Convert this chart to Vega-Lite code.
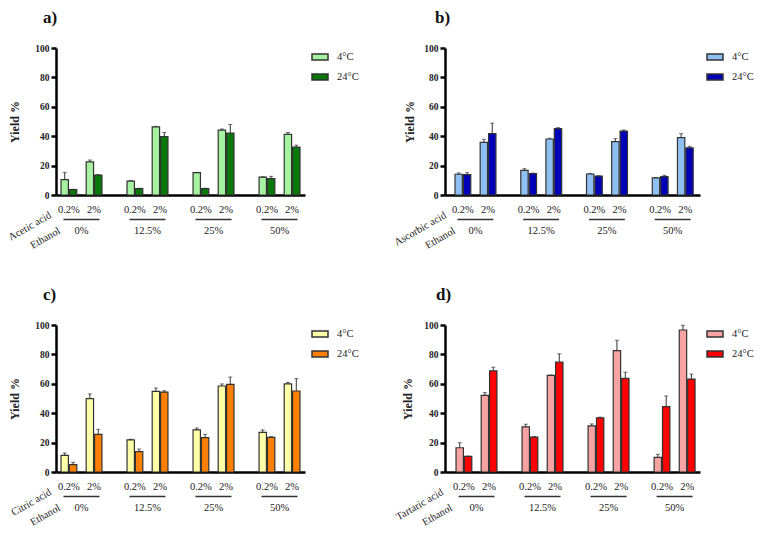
{
  "$schema": "https://vega.github.io/schema/vega-lite/v6.json",
  "padding": {"left": 6, "top": 9, "right": 5, "bottom": 5},
  "config": {
    "view": {"stroke": null},
    "font": "Liberation Serif",
    "axis": {"labelColor": "#222", "titleColor": "#222", "labelOverlap": false},
    "legend": {"labelFont": "Liberation Serif", "labelFontSize": 10.5, "labelColor": "#222", "symbolType": "M-1,-0.375H1V0.375H-1Z", "symbolSize": 256, "symbolStrokeColor": "#333", "symbolStrokeWidth": 1.5, "orient": "right", "offset": 6, "padding": 0, "labelOffset": 8, "rowPadding": 5, "title": null},
    "title": {"font": "Liberation Serif", "fontSize": 17, "fontWeight": "bold", "anchor": "start", "frame": "group", "color": "#111"}
  },
  "datasets": {
    "bars": [
      {"panel": "a", "ethanol": "0%", "acid": "0.2%", "temp": "4°C", "slot": "0.2% 4°C", "yield": 10.4, "upper": 15.4},
      {"panel": "a", "ethanol": "0%", "acid": "0.2%", "temp": "24°C", "slot": "0.2% 24°C", "yield": 3.6, "upper": 3.9},
      {"panel": "a", "ethanol": "0%", "acid": "2%", "temp": "4°C", "slot": "2% 4°C", "yield": 22.6, "upper": 23.8},
      {"panel": "a", "ethanol": "0%", "acid": "2%", "temp": "24°C", "slot": "2% 24°C", "yield": 13.6, "upper": 13.9},
      {"panel": "a", "ethanol": "12.5%", "acid": "0.2%", "temp": "4°C", "slot": "0.2% 4°C", "yield": 9.5, "upper": 9.8},
      {"panel": "a", "ethanol": "12.5%", "acid": "0.2%", "temp": "24°C", "slot": "0.2% 24°C", "yield": 4.3, "upper": 4.6},
      {"panel": "a", "ethanol": "12.5%", "acid": "2%", "temp": "4°C", "slot": "2% 4°C", "yield": 46.4, "upper": 46.7},
      {"panel": "a", "ethanol": "12.5%", "acid": "2%", "temp": "24°C", "slot": "2% 24°C", "yield": 39.8, "upper": 42.5},
      {"panel": "a", "ethanol": "25%", "acid": "0.2%", "temp": "4°C", "slot": "0.2% 4°C", "yield": 15.2, "upper": 15.4},
      {"panel": "a", "ethanol": "25%", "acid": "0.2%", "temp": "24°C", "slot": "0.2% 24°C", "yield": 4.3, "upper": 4.6},
      {"panel": "a", "ethanol": "25%", "acid": "2%", "temp": "4°C", "slot": "2% 4°C", "yield": 44.1, "upper": 44.9},
      {"panel": "a", "ethanol": "25%", "acid": "2%", "temp": "24°C", "slot": "2% 24°C", "yield": 42.1, "upper": 48.0},
      {"panel": "a", "ethanol": "50%", "acid": "0.2%", "temp": "4°C", "slot": "0.2% 4°C", "yield": 12.2, "upper": 12.4},
      {"panel": "a", "ethanol": "50%", "acid": "0.2%", "temp": "24°C", "slot": "0.2% 24°C", "yield": 11.1, "upper": 12.7},
      {"panel": "a", "ethanol": "50%", "acid": "2%", "temp": "4°C", "slot": "2% 4°C", "yield": 41.2, "upper": 42.5},
      {"panel": "a", "ethanol": "50%", "acid": "2%", "temp": "24°C", "slot": "2% 24°C", "yield": 32.6, "upper": 33.9},

      {"panel": "b", "ethanol": "0%", "acid": "0.2%", "temp": "4°C", "slot": "0.2% 4°C", "yield": 14.1, "upper": 15.0},
      {"panel": "b", "ethanol": "0%", "acid": "0.2%", "temp": "24°C", "slot": "0.2% 24°C", "yield": 13.8, "upper": 15.2},
      {"panel": "b", "ethanol": "0%", "acid": "2%", "temp": "4°C", "slot": "2% 4°C", "yield": 35.8, "upper": 37.9},
      {"panel": "b", "ethanol": "0%", "acid": "2%", "temp": "24°C", "slot": "2% 24°C", "yield": 41.7, "upper": 48.9},
      {"panel": "b", "ethanol": "12.5%", "acid": "0.2%", "temp": "4°C", "slot": "0.2% 4°C", "yield": 16.8, "upper": 17.9},
      {"panel": "b", "ethanol": "12.5%", "acid": "0.2%", "temp": "24°C", "slot": "0.2% 24°C", "yield": 14.5, "upper": 14.9},
      {"panel": "b", "ethanol": "12.5%", "acid": "2%", "temp": "4°C", "slot": "2% 4°C", "yield": 38.1, "upper": 38.6},
      {"panel": "b", "ethanol": "12.5%", "acid": "2%", "temp": "24°C", "slot": "2% 24°C", "yield": 45.1, "upper": 45.8},
      {"panel": "b", "ethanol": "25%", "acid": "0.2%", "temp": "4°C", "slot": "0.2% 4°C", "yield": 14.3, "upper": 14.7},
      {"panel": "b", "ethanol": "25%", "acid": "0.2%", "temp": "24°C", "slot": "0.2% 24°C", "yield": 12.9, "upper": 13.1},
      {"panel": "b", "ethanol": "25%", "acid": "2%", "temp": "4°C", "slot": "2% 4°C", "yield": 36.3, "upper": 38.3},
      {"panel": "b", "ethanol": "25%", "acid": "2%", "temp": "24°C", "slot": "2% 24°C", "yield": 43.5, "upper": 44.2},
      {"panel": "b", "ethanol": "50%", "acid": "0.2%", "temp": "4°C", "slot": "0.2% 4°C", "yield": 11.6, "upper": 11.9},
      {"panel": "b", "ethanol": "50%", "acid": "0.2%", "temp": "24°C", "slot": "0.2% 24°C", "yield": 12.5, "upper": 13.4},
      {"panel": "b", "ethanol": "50%", "acid": "2%", "temp": "4°C", "slot": "2% 4°C", "yield": 39.0, "upper": 41.7},
      {"panel": "b", "ethanol": "50%", "acid": "2%", "temp": "24°C", "slot": "2% 24°C", "yield": 32.0, "upper": 33.1},

      {"panel": "c", "ethanol": "0%", "acid": "0.2%", "temp": "4°C", "slot": "0.2% 4°C", "yield": 11.3, "upper": 12.9},
      {"panel": "c", "ethanol": "0%", "acid": "0.2%", "temp": "24°C", "slot": "0.2% 24°C", "yield": 5.0, "upper": 6.6},
      {"panel": "c", "ethanol": "0%", "acid": "2%", "temp": "4°C", "slot": "2% 4°C", "yield": 49.9, "upper": 53.1},
      {"panel": "c", "ethanol": "0%", "acid": "2%", "temp": "24°C", "slot": "2% 24°C", "yield": 25.6, "upper": 29.0},
      {"panel": "c", "ethanol": "12.5%", "acid": "0.2%", "temp": "4°C", "slot": "0.2% 4°C", "yield": 21.8, "upper": 22.3},
      {"panel": "c", "ethanol": "12.5%", "acid": "0.2%", "temp": "24°C", "slot": "0.2% 24°C", "yield": 13.8, "upper": 15.6},
      {"panel": "c", "ethanol": "12.5%", "acid": "2%", "temp": "4°C", "slot": "2% 4°C", "yield": 54.9, "upper": 57.1},
      {"panel": "c", "ethanol": "12.5%", "acid": "2%", "temp": "24°C", "slot": "2% 24°C", "yield": 54.4, "upper": 55.3},
      {"panel": "c", "ethanol": "25%", "acid": "0.2%", "temp": "4°C", "slot": "0.2% 4°C", "yield": 28.6, "upper": 29.9},
      {"panel": "c", "ethanol": "25%", "acid": "0.2%", "temp": "24°C", "slot": "0.2% 24°C", "yield": 23.4, "upper": 25.6},
      {"panel": "c", "ethanol": "25%", "acid": "2%", "temp": "4°C", "slot": "2% 4°C", "yield": 58.5, "upper": 59.9},
      {"panel": "c", "ethanol": "25%", "acid": "2%", "temp": "24°C", "slot": "2% 24°C", "yield": 59.6, "upper": 64.6},
      {"panel": "c", "ethanol": "50%", "acid": "0.2%", "temp": "4°C", "slot": "0.2% 4°C", "yield": 27.0, "upper": 28.6},
      {"panel": "c", "ethanol": "50%", "acid": "0.2%", "temp": "24°C", "slot": "0.2% 24°C", "yield": 23.6, "upper": 24.0},
      {"panel": "c", "ethanol": "50%", "acid": "2%", "temp": "4°C", "slot": "2% 4°C", "yield": 59.9, "upper": 61.0},
      {"panel": "c", "ethanol": "50%", "acid": "2%", "temp": "24°C", "slot": "2% 24°C", "yield": 55.1, "upper": 63.5},

      {"panel": "d", "ethanol": "0%", "acid": "0.2%", "temp": "4°C", "slot": "0.2% 4°C", "yield": 16.5, "upper": 19.9},
      {"panel": "d", "ethanol": "0%", "acid": "0.2%", "temp": "24°C", "slot": "0.2% 24°C", "yield": 10.6, "upper": 10.8},
      {"panel": "d", "ethanol": "0%", "acid": "2%", "temp": "4°C", "slot": "2% 4°C", "yield": 52.1, "upper": 54.0},
      {"panel": "d", "ethanol": "0%", "acid": "2%", "temp": "24°C", "slot": "2% 24°C", "yield": 68.8, "upper": 71.3},
      {"panel": "d", "ethanol": "12.5%", "acid": "0.2%", "temp": "4°C", "slot": "0.2% 4°C", "yield": 30.7, "upper": 32.5},
      {"panel": "d", "ethanol": "12.5%", "acid": "0.2%", "temp": "24°C", "slot": "0.2% 24°C", "yield": 23.7, "upper": 24.2},
      {"panel": "d", "ethanol": "12.5%", "acid": "2%", "temp": "4°C", "slot": "2% 4°C", "yield": 65.7, "upper": 66.0},
      {"panel": "d", "ethanol": "12.5%", "acid": "2%", "temp": "24°C", "slot": "2% 24°C", "yield": 74.7, "upper": 80.4},
      {"panel": "d", "ethanol": "25%", "acid": "0.2%", "temp": "4°C", "slot": "0.2% 4°C", "yield": 31.4, "upper": 32.7},
      {"panel": "d", "ethanol": "25%", "acid": "0.2%", "temp": "24°C", "slot": "0.2% 24°C", "yield": 36.8, "upper": 37.3},
      {"panel": "d", "ethanol": "25%", "acid": "2%", "temp": "4°C", "slot": "2% 4°C", "yield": 82.6, "upper": 89.6},
      {"panel": "d", "ethanol": "25%", "acid": "2%", "temp": "24°C", "slot": "2% 24°C", "yield": 63.7, "upper": 67.9},
      {"panel": "d", "ethanol": "50%", "acid": "0.2%", "temp": "4°C", "slot": "0.2% 4°C", "yield": 9.9, "upper": 12.0},
      {"panel": "d", "ethanol": "50%", "acid": "0.2%", "temp": "24°C", "slot": "0.2% 24°C", "yield": 44.5, "upper": 51.7},
      {"panel": "d", "ethanol": "50%", "acid": "2%", "temp": "4°C", "slot": "2% 4°C", "yield": 96.6, "upper": 99.8},
      {"panel": "d", "ethanol": "50%", "acid": "2%", "temp": "24°C", "slot": "2% 24°C", "yield": 63.2, "upper": 66.6}
    ],
    "acidlabels": [
      {"ethanol": "0%", "acid": "0.2%", "slot": "0.2% 4°C"},
      {"ethanol": "0%", "acid": "2%", "slot": "2% 4°C"},
      {"ethanol": "12.5%", "acid": "0.2%", "slot": "0.2% 4°C"},
      {"ethanol": "12.5%", "acid": "2%", "slot": "2% 4°C"},
      {"ethanol": "25%", "acid": "0.2%", "slot": "0.2% 4°C"},
      {"ethanol": "25%", "acid": "2%", "slot": "2% 4°C"},
      {"ethanol": "50%", "acid": "0.2%", "slot": "0.2% 4°C"},
      {"ethanol": "50%", "acid": "2%", "slot": "2% 4°C"}
    ],
    "groups": [
      {"ethanol": "0%"}, {"ethanol": "12.5%"}, {"ethanol": "25%"}, {"ethanol": "50%"}
    ]
  },
  "bounds": "flush",
  "columns": 2,
  "spacing": {"column": 140, "row": 130},
  "resolve": {"scale": {"x": "independent", "y": "independent", "color": "independent"}},
  "concat": [
    {
      "width": 249, "height": 147,
      "title": {"text": "a)", "dx": -13, "offset": 16},
      "layer": [
        {
          "data": {"name": "bars"},
          "transform": [{"filter": "datum.panel == 'a'"}],
          "mark": {"type": "bar", "stroke": "#333", "strokeWidth": 1.2},
          "encoding": {
            "x": {"field": "ethanol", "type": "nominal", "scale": {"domain": ["0%", "12.5%", "25%", "50%"], "paddingInner": 0.38, "paddingOuter": 0.076},
              "axis": {"title": ["Acetic acid", "Ethanol\u00a0\u00a0\u00a0"], "titleAngle": -30, "titleAlign": "right", "titleBaseline": "middle", "titleX": -6, "titleY": 19, "titleLineHeight": 18, "titleFontWeight": "normal", "titleFontSize": 10.5, "ticks": false, "tickSize": 0, "labelPadding": 35, "labelBaseline": "middle", "labelFontSize": 10.5, "labelAngle": 0, "domainColor": "#000", "domainWidth": 2.5}},
            "xOffset": {"field": "slot", "type": "nominal", "scale": {"domain": ["0.2% 4°C", "0.2% 24°C", "gap", "2% 4°C", "2% 24°C"], "paddingInner": 0.12, "paddingOuter": 0}},
            "y": {"field": "yield", "type": "quantitative", "scale": {"domain": [0, 100], "nice": false},
              "axis": {"title": "Yield %", "tickCount": 6, "labelOverlap": false, "labelSeparation": 0, "grid": false, "domainColor": "#000", "domainWidth": 2.5, "tickColor": "#000", "tickWidth": 2.5, "tickSize": 5, "labelFontWeight": "bold", "labelFontSize": 9.5, "labelPadding": 2, "titleFontWeight": "bold", "titleFontSize": 12, "titlePadding": 13}},
            "color": {"field": "temp", "type": "nominal", "scale": {"domain": ["4°C", "24°C"], "range": ["#a6f2a0", "#087808"]}}
          }
        },
        {
          "data": {"name": "bars"},
          "transform": [{"filter": "datum.panel == 'a'"}],
          "mark": {"type": "rule", "color": "#333", "strokeWidth": 1},
          "encoding": {"x": {"field": "ethanol", "type": "nominal"}, "xOffset": {"field": "slot", "type": "nominal"}, "y": {"field": "yield", "type": "quantitative"}, "y2": {"field": "upper"}}
        },
        {
          "data": {"name": "bars"},
          "transform": [{"filter": "datum.panel == 'a'"}],
          "mark": {"type": "tick", "color": "#333", "size": 4, "thickness": 1},
          "encoding": {"x": {"field": "ethanol", "type": "nominal"}, "xOffset": {"field": "slot", "type": "nominal"}, "y": {"field": "upper", "type": "quantitative"}}
        },
        {
          "data": {"name": "acidlabels"},
          "mark": {"type": "text", "fontSize": 10.5, "dx": 4.2, "baseline": "middle", "color": "#222"},
          "encoding": {"x": {"field": "ethanol", "type": "nominal"}, "xOffset": {"field": "slot", "type": "nominal"}, "y": {"datum": -9.9}, "text": {"field": "acid"}}
        },
        {
          "data": {"name": "groups"},
          "mark": {"type": "bar", "color": "#333", "width": {"band": 0.88}},
          "encoding": {"x": {"field": "ethanol", "type": "nominal"}, "y": {"datum": -16.2}, "y2": {"datum": -17.2}}
        }
      ]
    },
    {
      "width": 255, "height": 147,
      "title": {"text": "b)", "dx": -10, "offset": 16},
      "layer": [
        {
          "data": {"name": "bars"},
          "transform": [{"filter": "datum.panel == 'b'"}],
          "mark": {"type": "bar", "stroke": "#333", "strokeWidth": 1.2},
          "encoding": {
            "x": {"field": "ethanol", "type": "nominal", "scale": {"domain": ["0%", "12.5%", "25%", "50%"], "paddingInner": 0.38, "paddingOuter": 0.129, "align": 0.59},
              "axis": {"title": ["Ascorbic acid", "Ethanol\u00a0\u00a0\u00a0"], "titleAngle": -30, "titleAlign": "right", "titleBaseline": "middle", "titleX": 0, "titleY": 19, "titleLineHeight": 18, "titleFontWeight": "normal", "titleFontSize": 10.5, "ticks": false, "tickSize": 0, "labelPadding": 35, "labelBaseline": "middle", "labelFontSize": 10.5, "labelAngle": 0, "domainColor": "#000", "domainWidth": 2.5}},
            "xOffset": {"field": "slot", "type": "nominal", "scale": {"domain": ["0.2% 4°C", "0.2% 24°C", "gap", "2% 4°C", "2% 24°C"], "paddingInner": 0.12, "paddingOuter": 0}},
            "y": {"field": "yield", "type": "quantitative", "scale": {"domain": [0, 100], "nice": false},
              "axis": {"title": "Yield %", "tickCount": 6, "labelOverlap": false, "labelSeparation": 0, "grid": false, "domainColor": "#000", "domainWidth": 2.5, "tickColor": "#000", "tickWidth": 2.5, "tickSize": 5, "labelFontWeight": "bold", "labelFontSize": 9.5, "labelPadding": 2, "titleFontWeight": "bold", "titleFontSize": 12, "titlePadding": 7}},
            "color": {"field": "temp", "type": "nominal", "scale": {"domain": ["4°C", "24°C"], "range": ["#8ec0f2", "#0000b8"]}}
          }
        },
        {
          "data": {"name": "bars"},
          "transform": [{"filter": "datum.panel == 'b'"}],
          "mark": {"type": "rule", "color": "#333", "strokeWidth": 1},
          "encoding": {"x": {"field": "ethanol", "type": "nominal"}, "xOffset": {"field": "slot", "type": "nominal"}, "y": {"field": "yield", "type": "quantitative"}, "y2": {"field": "upper"}}
        },
        {
          "data": {"name": "bars"},
          "transform": [{"filter": "datum.panel == 'b'"}],
          "mark": {"type": "tick", "color": "#333", "size": 4, "thickness": 1},
          "encoding": {"x": {"field": "ethanol", "type": "nominal"}, "xOffset": {"field": "slot", "type": "nominal"}, "y": {"field": "upper", "type": "quantitative"}}
        },
        {
          "data": {"name": "acidlabels"},
          "mark": {"type": "text", "fontSize": 10.5, "dx": 4.2, "baseline": "middle", "color": "#222"},
          "encoding": {"x": {"field": "ethanol", "type": "nominal"}, "xOffset": {"field": "slot", "type": "nominal"}, "y": {"datum": -9.9}, "text": {"field": "acid"}}
        },
        {
          "data": {"name": "groups"},
          "mark": {"type": "bar", "color": "#333", "width": {"band": 0.88}},
          "encoding": {"x": {"field": "ethanol", "type": "nominal"}, "y": {"datum": -16.2}, "y2": {"datum": -17.2}}
        }
      ]
    },
    {
      "width": 249, "height": 147,
      "title": {"text": "c)", "dx": -13, "offset": 16},
      "layer": [
        {
          "data": {"name": "bars"},
          "transform": [{"filter": "datum.panel == 'c'"}],
          "mark": {"type": "bar", "stroke": "#333", "strokeWidth": 1.2},
          "encoding": {
            "x": {"field": "ethanol", "type": "nominal", "scale": {"domain": ["0%", "12.5%", "25%", "50%"], "paddingInner": 0.38, "paddingOuter": 0.076},
              "axis": {"title": ["Citric acid", "Ethanol\u00a0\u00a0\u00a0"], "titleAngle": -30, "titleAlign": "right", "titleBaseline": "middle", "titleX": -6, "titleY": 19, "titleLineHeight": 18, "titleFontWeight": "normal", "titleFontSize": 10.5, "ticks": false, "tickSize": 0, "labelPadding": 35, "labelBaseline": "middle", "labelFontSize": 10.5, "labelAngle": 0, "domainColor": "#000", "domainWidth": 2.5}},
            "xOffset": {"field": "slot", "type": "nominal", "scale": {"domain": ["0.2% 4°C", "0.2% 24°C", "gap", "2% 4°C", "2% 24°C"], "paddingInner": 0.12, "paddingOuter": 0}},
            "y": {"field": "yield", "type": "quantitative", "scale": {"domain": [0, 100], "nice": false},
              "axis": {"title": "Yield %", "tickCount": 6, "labelOverlap": false, "labelSeparation": 0, "grid": false, "domainColor": "#000", "domainWidth": 2.5, "tickColor": "#000", "tickWidth": 2.5, "tickSize": 5, "labelFontWeight": "bold", "labelFontSize": 9.5, "labelPadding": 2, "titleFontWeight": "bold", "titleFontSize": 12, "titlePadding": 13}},
            "color": {"field": "temp", "type": "nominal", "scale": {"domain": ["4°C", "24°C"], "range": ["#ffffa8", "#ff8000"]}}
          }
        },
        {
          "data": {"name": "bars"},
          "transform": [{"filter": "datum.panel == 'c'"}],
          "mark": {"type": "rule", "color": "#333", "strokeWidth": 1},
          "encoding": {"x": {"field": "ethanol", "type": "nominal"}, "xOffset": {"field": "slot", "type": "nominal"}, "y": {"field": "yield", "type": "quantitative"}, "y2": {"field": "upper"}}
        },
        {
          "data": {"name": "bars"},
          "transform": [{"filter": "datum.panel == 'c'"}],
          "mark": {"type": "tick", "color": "#333", "size": 4, "thickness": 1},
          "encoding": {"x": {"field": "ethanol", "type": "nominal"}, "xOffset": {"field": "slot", "type": "nominal"}, "y": {"field": "upper", "type": "quantitative"}}
        },
        {
          "data": {"name": "acidlabels"},
          "mark": {"type": "text", "fontSize": 10.5, "dx": 4.2, "baseline": "middle", "color": "#222"},
          "encoding": {"x": {"field": "ethanol", "type": "nominal"}, "xOffset": {"field": "slot", "type": "nominal"}, "y": {"datum": -9.9}, "text": {"field": "acid"}}
        },
        {
          "data": {"name": "groups"},
          "mark": {"type": "bar", "color": "#333", "width": {"band": 0.88}},
          "encoding": {"x": {"field": "ethanol", "type": "nominal"}, "y": {"datum": -16.2}, "y2": {"datum": -17.2}}
        }
      ]
    },
    {
      "width": 255, "height": 147,
      "title": {"text": "d)", "dx": -9, "offset": 16},
      "layer": [
        {
          "data": {"name": "bars"},
          "transform": [{"filter": "datum.panel == 'd'"}],
          "mark": {"type": "bar", "stroke": "#333", "strokeWidth": 1.2},
          "encoding": {
            "x": {"field": "ethanol", "type": "nominal", "scale": {"domain": ["0%", "12.5%", "25%", "50%"], "paddingInner": 0.38, "paddingOuter": 0.121, "align": 0.69},
              "axis": {"title": ["Tartaric acid", "Ethanol\u00a0\u00a0\u00a0"], "titleAngle": -30, "titleAlign": "right", "titleBaseline": "middle", "titleX": -3, "titleY": 19, "titleLineHeight": 18, "titleFontWeight": "normal", "titleFontSize": 10.5, "ticks": false, "tickSize": 0, "labelPadding": 35, "labelBaseline": "middle", "labelFontSize": 10.5, "labelAngle": 0, "domainColor": "#000", "domainWidth": 2.5}},
            "xOffset": {"field": "slot", "type": "nominal", "scale": {"domain": ["0.2% 4°C", "0.2% 24°C", "gap", "2% 4°C", "2% 24°C"], "paddingInner": 0.12, "paddingOuter": 0}},
            "y": {"field": "yield", "type": "quantitative", "scale": {"domain": [0, 100], "nice": false},
              "axis": {"title": "Yield %", "tickCount": 6, "labelOverlap": false, "labelSeparation": 0, "grid": false, "domainColor": "#000", "domainWidth": 2.5, "tickColor": "#000", "tickWidth": 2.5, "tickSize": 5, "labelFontWeight": "bold", "labelFontSize": 9.5, "labelPadding": 2, "titleFontWeight": "bold", "titleFontSize": 12, "titlePadding": 9}},
            "color": {"field": "temp", "type": "nominal", "scale": {"domain": ["4°C", "24°C"], "range": ["#f7a3a3", "#ff0000"]}}
          }
        },
        {
          "data": {"name": "bars"},
          "transform": [{"filter": "datum.panel == 'd'"}],
          "mark": {"type": "rule", "color": "#333", "strokeWidth": 1},
          "encoding": {"x": {"field": "ethanol", "type": "nominal"}, "xOffset": {"field": "slot", "type": "nominal"}, "y": {"field": "yield", "type": "quantitative"}, "y2": {"field": "upper"}}
        },
        {
          "data": {"name": "bars"},
          "transform": [{"filter": "datum.panel == 'd'"}],
          "mark": {"type": "tick", "color": "#333", "size": 4, "thickness": 1},
          "encoding": {"x": {"field": "ethanol", "type": "nominal"}, "xOffset": {"field": "slot", "type": "nominal"}, "y": {"field": "upper", "type": "quantitative"}}
        },
        {
          "data": {"name": "acidlabels"},
          "mark": {"type": "text", "fontSize": 10.5, "dx": 4.2, "baseline": "middle", "color": "#222"},
          "encoding": {"x": {"field": "ethanol", "type": "nominal"}, "xOffset": {"field": "slot", "type": "nominal"}, "y": {"datum": -9.9}, "text": {"field": "acid"}}
        },
        {
          "data": {"name": "groups"},
          "mark": {"type": "bar", "color": "#333", "width": {"band": 0.88}},
          "encoding": {"x": {"field": "ethanol", "type": "nominal"}, "y": {"datum": -16.2}, "y2": {"datum": -17.2}}
        }
      ]
    }
  ]
}
